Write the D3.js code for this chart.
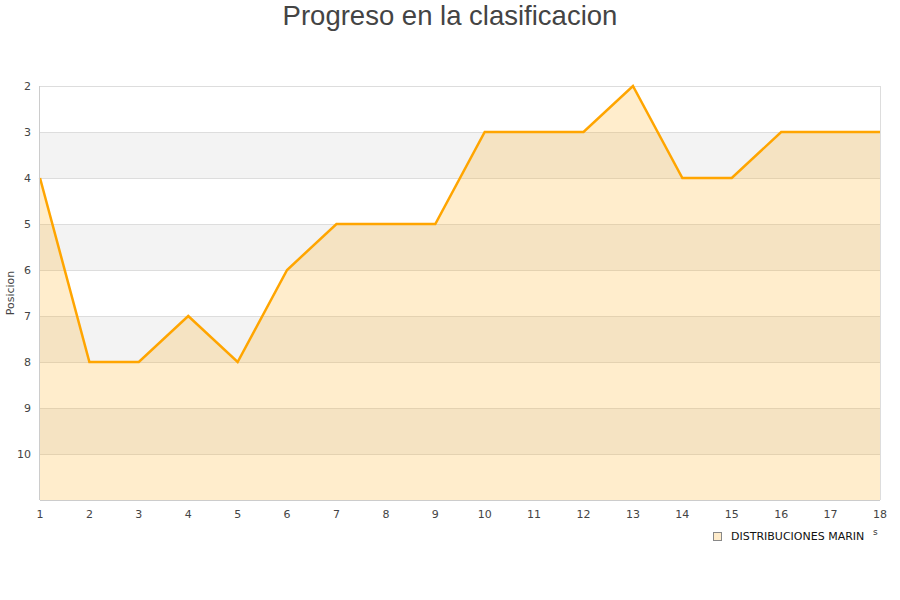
<!DOCTYPE html>
<html><head><meta charset="utf-8">
<script src="https://cdn.jsdelivr.net/npm/d3@7"></script>
<style>body{margin:0;background:#fff}svg{display:block}</style>
</head><body>
<svg id="c" width="900" height="600"></svg>
<script>
const jornadas = [1,2,3,4,5,6,7,8,9,10,11,12,13,14,15,16,17,18];
const posiciones = [4,8,8,7,8,6,5,5,5,3,3,3,2,4,4,3,3,3];
const yTicks = [2,3,4,5,6,7,8,9,10];
const seriesName = "DISTRIBUCIONES MARIN";
const title = "Progreso en la clasificacion";
const yLabel = "Posicion";

const svg = d3.select("#c");
const L=40,R=880,T=86,B=500;
const x = d3.scaleLinear().domain([1,18]).range([L,R]);
const y = d3.scaleLinear().domain([2,11]).range([T,B]);

// bands
for(let v=2; v<11; v++){
  svg.append("rect").attr("x",L).attr("y",y(v)).attr("width",R-L).attr("height",y(v+1)-y(v))
    .attr("fill", v%2===1 ? "#f3f3f3" : "#ffffff");
}
// grid
svg.append("g").selectAll("line").data(d3.range(2,12)).join("line")
  .attr("x1",L).attr("x2",R).attr("y1",d=>y(d)+0.5).attr("y2",d=>y(d)+0.5)
  .attr("stroke","#dddddd");
svg.append("line").attr("x1",R+0.5).attr("x2",R+0.5).attr("y1",T).attr("y2",B).attr("stroke","#dddddd");

const data = jornadas.map((j,i)=>({j, p:posiciones[i]}));
const area = d3.area().x(d=>x(d.j)).y0(y(11)).y1(d=>y(d.p));
svg.append("path").datum(data).attr("d",area).attr("fill","#ffad17").attr("fill-opacity",0.22);
const line = d3.line().x(d=>x(d.j)).y(d=>y(d.p));
svg.append("path").datum(data).attr("d",line).attr("fill","none").attr("stroke","#ffa500").attr("stroke-width",2.5);

// axes lines
svg.append("line").attr("x1",L-0.5).attr("x2",L-0.5).attr("y1",T).attr("y2",B).attr("stroke","#cccccc");
svg.append("line").attr("x1",L).attr("x2",R).attr("y1",B+0.5).attr("y2",B+0.5).attr("stroke","#cccccc");

// tick labels
svg.append("g").selectAll("text").data(yTicks).join("text")
  .attr("x",31).attr("y",d=>y(d)).attr("dy","0.35em").attr("text-anchor","end")
  .attr("font-family","DejaVu Sans").attr("font-size",11).attr("fill","#444").text(d=>d);
svg.append("g").selectAll("text").data(jornadas).join("text")
  .attr("x",d=>x(d)).attr("y",514).attr("dy","0.35em").attr("text-anchor","middle")
  .attr("font-family","DejaVu Sans").attr("font-size",11).attr("fill","#444").text(d=>d);

// title
svg.append("text").attr("x",450).attr("y",25).attr("text-anchor","middle")
  .attr("font-family","Liberation Sans, Arial").attr("font-size",27.5).attr("fill","#444").text(title);
// y label
svg.append("text").attr("transform","translate(14,293) rotate(-90)").attr("text-anchor","middle")
  .attr("font-family","DejaVu Sans").attr("font-size",11).attr("fill","#444").text(yLabel);

// legend
svg.append("rect").attr("x",713.5).attr("y",532.5).attr("width",8).attr("height",8)
  .attr("fill","#ffeccb").attr("stroke","#888");
svg.append("text").attr("x",731).attr("y",536).attr("dy","0.35em")
  .attr("font-family","DejaVu Sans").attr("font-size",11).attr("fill","#111").text(seriesName);
svg.append("text").attr("x",873).attr("y",532).attr("dy","0.35em")
  .attr("font-family","DejaVu Sans").attr("font-size",9).attr("fill","#333").text("s");
</script>
</body></html>
